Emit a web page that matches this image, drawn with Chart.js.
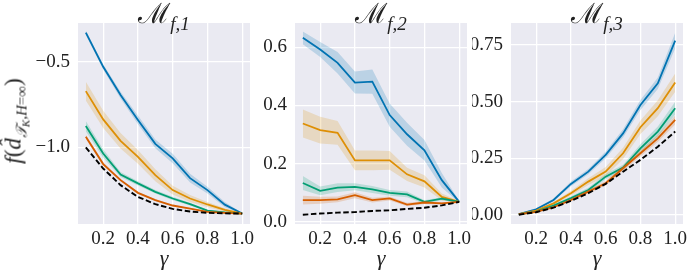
<!DOCTYPE html>
<html>
<head>
<meta charset="utf-8">
<script src="https://cdn.jsdelivr.net/npm/chart.js@4.4.1/dist/chart.umd.min.js"></script>
<style>
  body { margin: 0; background: #fff; width: 689px; height: 272px; position: relative; overflow: hidden; font-family: "Liberation Serif", serif; }
  canvas { position: absolute; top: 0; }
  .title { position: absolute; top: -7px; font-size: 28px; white-space: nowrap; transform: translateX(-50%); color: #222; }
  .title .m { font-family: "DejaVu Sans", sans-serif; font-weight: 200; font-style: normal; }
  .title sub { font-style: italic; font-size: 19px; vertical-align: -7px; font-family: "Liberation Serif", serif; }
  .xlab { position: absolute; top: 245px; font-size: 22px; font-style: italic; transform: translateX(-50%); color: #222; }
  .ylab { position: absolute; left: 16px; top: 121px; font-size: 23px; white-space: nowrap; transform: translate(-50%, -50%) rotate(-90deg); color: #222; }
  .ylab sub { font-size: 15px; vertical-align: -6px; }
  .ylab sub sub { font-size: 11px; vertical-align: -3px; }
</style>
</head>
<body>
<canvas id="p1" width="262" height="272" style="left:0px"></canvas>
<canvas id="p2" width="210" height="272" style="left:262px"></canvas>
<canvas id="p3" width="217" height="272" style="left:472px"></canvas>

<div class="title" style="left:164px"><span class="m">ℳ</span><sub>f,1</sub></div>
<div class="title" style="left:381px"><span class="m">ℳ</span><sub>f,2</sub></div>
<div class="title" style="left:597px"><span class="m">ℳ</span><sub>f,3</sub></div>
<div class="xlab" style="left:164px">γ</div>
<div class="xlab" style="left:381px">γ</div>
<div class="xlab" style="left:597px">γ</div>
<div class="ylab"><i>f</i>(<i>d̂</i><sub><i>𝒯</i><sub><i>K</i></sub>,<i>H</i>=∞</sub>)</div>

<script>
const gammas = [0.1, 0.2, 0.3, 0.4, 0.5, 0.6, 0.7, 0.8, 0.9, 1.0];
const xTicks = [0.2, 0.4, 0.6, 0.8, 1.0];
const xTickLabels = ["0.2", "0.4", "0.6", "0.8", "1.0"];

// panel 1
const blue1 = [-0.33, -0.53, -0.695, -0.84, -0.98, -1.065, -1.18, -1.25, -1.335, -1.387];
const blue1Spread = [0.012, 0.015, 0.02, 0.025, 0.025, 0.028, 0.025, 0.02, 0.015, 0.003];
const orange1 = [-0.672, -0.837, -0.962, -1.056, -1.163, -1.25, -1.299, -1.334, -1.366, -1.387];
const orange1Spread = [0.055, 0.05, 0.045, 0.04, 0.035, 0.025, 0.02, 0.015, 0.01, 0.003];
const green1 = [-0.876, -1.036, -1.159, -1.211, -1.26, -1.299, -1.332, -1.37, -1.38, -1.387];
const green1Spread = [0.03, 0.025, 0.015, 0.012, 0.01, 0.01, 0.008, 0.005, 0.004, 0.002];
const red1 = [-0.939, -1.098, -1.192, -1.266, -1.309, -1.34, -1.358, -1.377, -1.383, -1.387];
const red1Spread = [0.012, 0.01, 0.008, 0.006, 0.005, 0.004, 0.003, 0.003, 0.002, 0.002];
const base1 = [-1.0, -1.124, -1.221, -1.29, -1.332, -1.36, -1.375, -1.383, -1.386, -1.387];
const yTicks1 = [-1.0, -0.5];
const yTickLabels1 = ["\u22121.0", "\u22120.5"];

// panel 2
const blue2 = [0.633, 0.593, 0.547, 0.479, 0.482, 0.367, 0.301, 0.246, 0.143, 0.068];
const blue2Spread = [0.022, 0.026, 0.037, 0.038, 0.042, 0.04, 0.04, 0.035, 0.025, 0.003];
const orange2 = [0.338, 0.315, 0.306, 0.211, 0.211, 0.211, 0.163, 0.139, 0.085, 0.068];
const orange2Spread = [0.048, 0.046, 0.041, 0.034, 0.034, 0.032, 0.023, 0.021, 0.012, 0.003];
const green2 = [0.133, 0.106, 0.117, 0.120, 0.111, 0.099, 0.094, 0.068, 0.079, 0.068];
const green2Spread = [0.024, 0.015, 0.015, 0.012, 0.012, 0.01, 0.01, 0.006, 0.005, 0.002];
const red2 = [0.074, 0.074, 0.077, 0.091, 0.074, 0.080, 0.059, 0.066, 0.063, 0.068];
const red2Spread = [0.015, 0.012, 0.01, 0.01, 0.008, 0.007, 0.006, 0.005, 0.004, 0.002];
const base2 = [0.024, 0.028, 0.031, 0.033, 0.037, 0.039, 0.044, 0.048, 0.056, 0.068];
const yTicks2 = [0.0, 0.2, 0.4, 0.6];
const yTickLabels2 = ["0.0", "0.2", "0.4", "0.6"];

// panel 3
const blue3 = [0.004, 0.025, 0.066, 0.137, 0.191, 0.265, 0.36, 0.485, 0.581, 0.769];
const blue3Spread = [0.002, 0.004, 0.006, 0.01, 0.012, 0.015, 0.018, 0.022, 0.025, 0.035];
const orange3 = [0.004, 0.019, 0.051, 0.096, 0.147, 0.191, 0.272, 0.387, 0.471, 0.584];
const orange3Spread = [0.002, 0.004, 0.006, 0.01, 0.015, 0.02, 0.025, 0.03, 0.035, 0.04];
const green3 = [0.003, 0.015, 0.041, 0.074, 0.110, 0.169, 0.209, 0.294, 0.368, 0.471];
const green3Spread = [0.002, 0.003, 0.005, 0.008, 0.01, 0.012, 0.012, 0.018, 0.022, 0.028];
const red3 = [0.003, 0.013, 0.034, 0.066, 0.103, 0.140, 0.206, 0.272, 0.338, 0.419];
const red3Spread = [0.001, 0.002, 0.004, 0.006, 0.008, 0.01, 0.012, 0.014, 0.016, 0.02];
const base3 = [0.001, 0.012, 0.032, 0.062, 0.096, 0.137, 0.191, 0.243, 0.301, 0.368];
const yTicks3 = [0.0, 0.25, 0.5, 0.75];
const yTickLabels3 = ["0.00", "0.25", "0.50", "0.75"];

const colors = {
  blue: "#0173B2",
  orange: "#DE8F05",
  green: "#029E73",
  red: "#D55E00"
};
const bandColors = {
  blue: "rgba(1, 115, 178, 0.2)",
  orange: "rgba(222, 143, 5, 0.2)",
  green: "rgba(2, 158, 115, 0.2)",
  red: "rgba(213, 94, 0, 0.2)"
};

const plotBackground = {
  id: "plotBackground",
  beforeDraw(chart) {
    const a = chart.chartArea;
    const c = chart.ctx;
    c.save();
    c.fillStyle = "#EAEAF2";
    c.fillRect(a.left, a.top, a.right - a.left, a.bottom - a.top);
    c.restore();
  }
};

function toPoints(values) {
  return values.map((v, i) => ({ x: gammas[i], y: v }));
}

function seriesDatasets(mean, spread, name) {
  return [
    {
      data: toPoints(mean.map((v, i) => v - spread[i])),
      borderWidth: 0, borderColor: "transparent", fill: false
    },
    {
      data: toPoints(mean.map((v, i) => v + spread[i])),
      borderWidth: 0, borderColor: "transparent",
      fill: "-1", backgroundColor: bandColors[name]
    },
    {
      data: toPoints(mean),
      borderColor: colors[name], borderWidth: 1.8, fill: false
    }
  ];
}

function makePanel(id, series, base, yMin, yMax, yTicks, yTickLabels, axisWidth, padRight) {
  let datasets = [];
  series.forEach(s => { datasets = datasets.concat(seriesDatasets(s[0], s[1], s[2])); });
  datasets.push({
    data: toPoints(base),
    borderColor: "#000", borderWidth: 1.9, borderDash: [5.5, 2.6], fill: false
  });
  // draw later datasets on top, like matplotlib
  datasets.forEach((d, i) => { d.order = datasets.length - i; });

  new Chart(document.getElementById(id).getContext("2d"), {
    type: "line",
    data: { datasets: datasets },
    options: {
      responsive: false,
      animation: false,
      layout: { padding: { top: 23, right: padRight, left: 0, bottom: 0 } },
      elements: { point: { radius: 0 }, line: { tension: 0 } },
      plugins: { legend: { display: false }, tooltip: { enabled: false } },
      scales: {
        x: {
          type: "linear",
          min: 0.055,
          max: 1.045,
          afterBuildTicks: s => { s.ticks = xTicks.map(v => ({ value: v })); },
          afterFit: s => { s.height = 48; s.paddingLeft = 0; s.paddingRight = 0; },
          ticks: {
            callback: v => xTickLabels[xTicks.indexOf(v)],
            font: { family: "Liberation Serif", size: 19 },
            color: "#222",
            padding: 4,
            maxRotation: 0,
            autoSkip: false
          },
          grid: { color: "#fff", lineWidth: 1.3, drawTicks: false },
          border: { display: false }
        },
        y: {
          type: "linear",
          min: yMin,
          max: yMax,
          afterBuildTicks: s => { s.ticks = yTicks.map(v => ({ value: v })); },
          afterFit: s => { s.width = axisWidth; s.paddingTop = 0; s.paddingBottom = 0; },
          ticks: {
            callback: v => yTickLabels[yTicks.indexOf(v)],
            font: { family: "Liberation Serif", size: 19 },
            color: "#222",
            padding: 8,
            autoSkip: false
          },
          grid: { color: "#fff", lineWidth: 1.3, drawTicks: false },
          border: { display: false }
        }
      }
    },
    plugins: [plotBackground]
  });
}

makePanel("p1",
  [[blue1, blue1Spread, "blue"], [orange1, orange1Spread, "orange"], [green1, green1Spread, "green"], [red1, red1Spread, "red"]],
  base1, -1.448, -0.274, yTicks1, yTickLabels1, 78, 12);
makePanel("p2",
  [[blue2, blue2Spread, "blue"], [orange2, orange2Spread, "orange"], [green2, green2Spread, "green"], [red2, red2Spread, "red"]],
  base2, -0.008, 0.684, yTicks2, yTickLabels2, 33, 5);
makePanel("p3",
  [[blue3, blue3Spread, "blue"], [orange3, orange3Spread, "orange"], [green3, green3Spread, "green"], [red3, red3Spread, "red"]],
  base3, -0.040, 0.847, yTicks3, yTickLabels3, 39, 6);
</script>
</body>
</html>
